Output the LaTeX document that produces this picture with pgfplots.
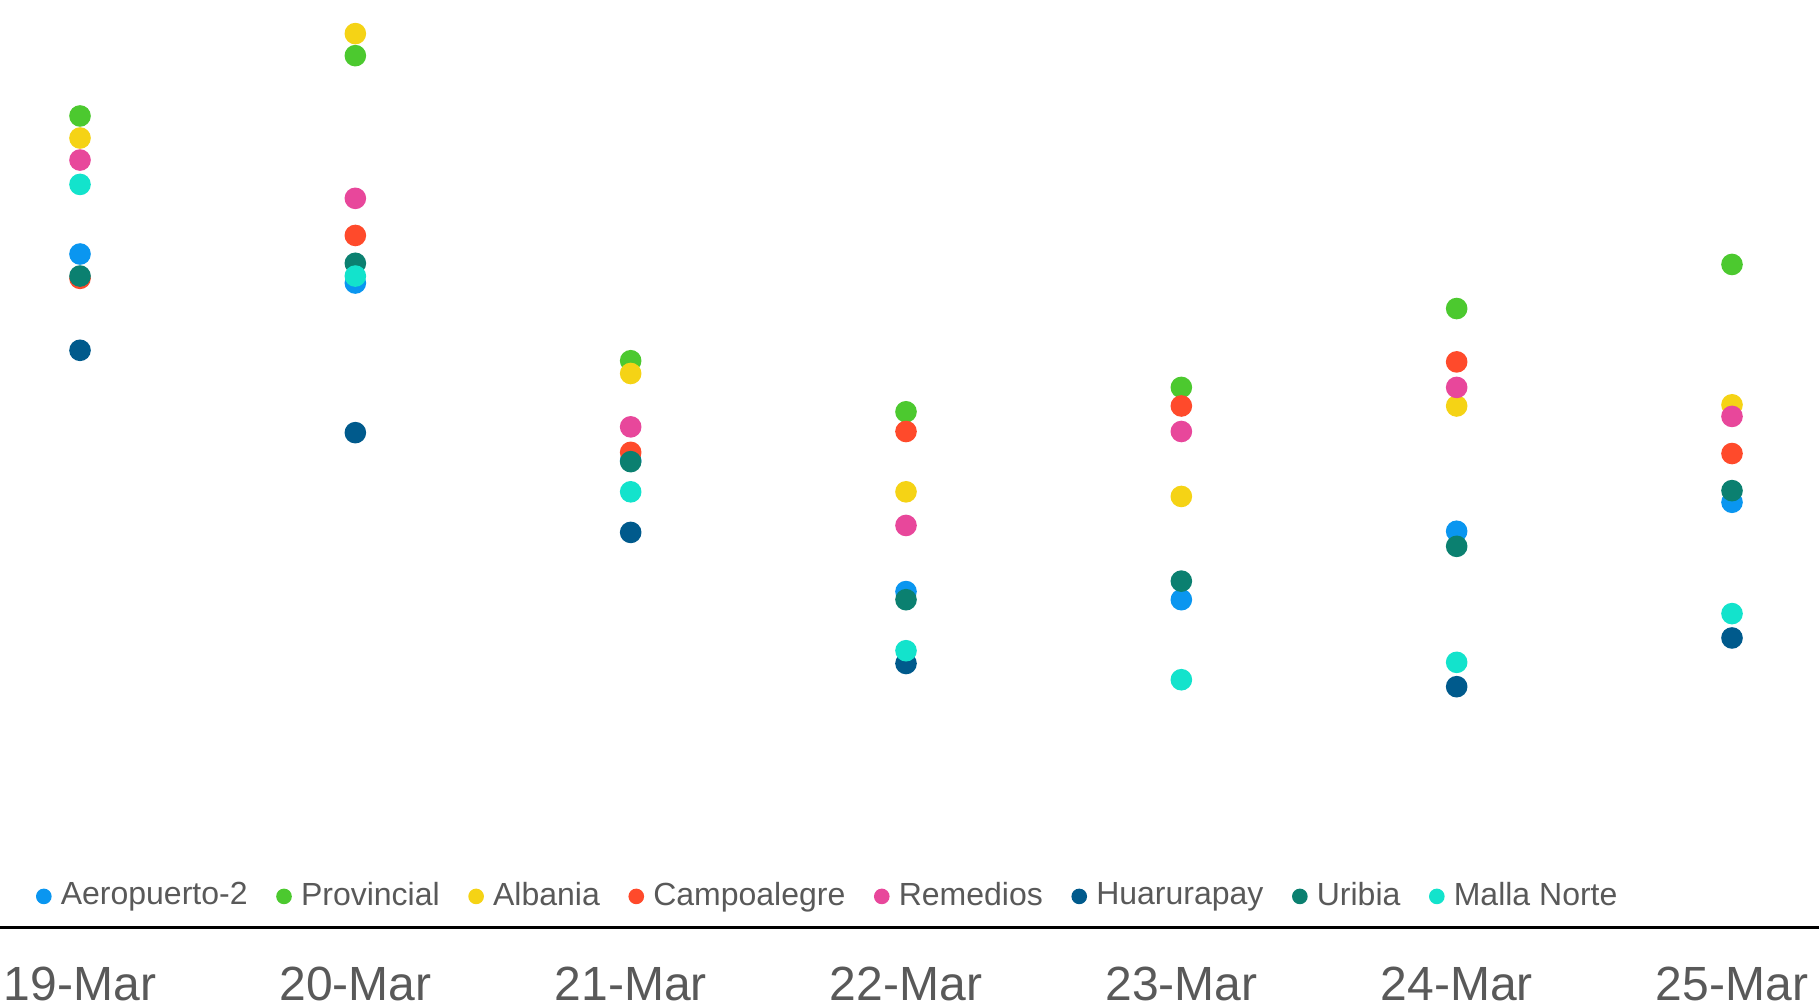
\documentclass[border=0pt]{standalone}
\usepackage{pgfplots}
\pgfplotsset{compat=1.18}
\usepackage{fontspec}
\setmainfont{Liberation Sans}

\definecolor{aero}{HTML}{0A96F0}
\definecolor{prov}{HTML}{4CC92F}
\definecolor{alba}{HTML}{F5D315}
\definecolor{camp}{HTML}{FF4A2B}
\definecolor{reme}{HTML}{E8479B}
\definecolor{huar}{HTML}{005A8C}
\definecolor{urib}{HTML}{0B8070}
\definecolor{mall}{HTML}{13E3CC}
\definecolor{txt}{HTML}{595959}

\pgfplotsset{
  dot/.style={only marks, mark=*, mark size=2.5pt, color=#1, mark options={draw=none, fill=#1}},
}

\begin{document}
\begin{tikzpicture}
\begin{axis}[
    scale only axis,
    width=454.75pt, height=232pt,
    xmin=-0.2906, xmax=6.316,
    ymin=0, ymax=80,
    clip=false,
    axis x line=bottom,
    axis y line=none,
    axis line style={-, black, line width=0.75pt},
    xtick={0,1,2,3,4,5,6},
    xticklabels={19-Mar,20-Mar,21-Mar,22-Mar,23-Mar,24-Mar,25-Mar},
    major tick length=0pt,
    xticklabel style={font=\fontsize{12}{14}\selectfont, text=txt, yshift=-6.2pt},
    legend columns=-1,
    legend image code/.code={\draw[#1] plot coordinates {(0pt,0pt)};},
    legend image post style={mark size=1.75pt},
    legend style={
      draw=none, fill=none, inner sep=0pt,
      at={(axis description cs:0.0198,0.034)}, anchor=west,
      font=\fontsize{8}{10}\selectfont, text=txt,
      nodes={inner xsep=1.5pt},
      /tikz/every odd column/.style={column sep=1.0pt},
      /tikz/every even column/.style={column sep=5.85pt},
    },
]
% Aeropuerto-2
\addplot[dot=aero] coordinates {(0,58.1) (1,55.6) (2,40.3) (3,29.0) (4,28.3) (5,34.2) (6,36.7)};
% Provincial
\addplot[dot=prov] coordinates {(0,70.0) (1,75.2) (2,48.9) (3,44.5) (4,46.6) (5,53.4) (6,57.2)};
% Albania
\addplot[dot=alba] coordinates {(0,68.1) (1,77.1) (2,47.8) (3,37.6) (4,37.2) (5,45.0) (6,45.1)};
% Campoalegre
\addplot[dot=camp] coordinates {(0,56.0) (1,59.7) (2,41.0) (3,42.8) (4,45.0) (5,48.8) (6,40.9)};
% Remedios
\addplot[dot=reme] coordinates {(0,66.2) (1,62.9) (2,43.2) (3,34.7) (4,42.8) (5,46.6) (6,44.1)};
% Huarurapay (no value on 23-Mar)
\addplot[dot=huar] coordinates {(0,49.8) (1,42.7) (2,34.1) (3,22.8) (5,20.8) (6,25.0)};
% Uribia
\addplot[dot=urib] coordinates {(0,56.2) (1,57.3) (2,40.2) (3,28.3) (4,29.9) (5,32.9) (6,37.7)};
% Malla Norte
\addplot[dot=mall] coordinates {(0,64.1) (1,56.2) (2,37.6) (3,23.9) (4,21.4) (5,22.9) (6,27.1)};
\legend{Aeropuerto-2,Provincial,Albania,Campoalegre,Remedios,Huarurapay,Uribia,Malla Norte}
\coordinate (bl) at (rel axis cs:0,0);
\coordinate (tr) at (rel axis cs:1,1);
\end{axis}
\pgfresetboundingbox
\path ([yshift=-20pt]bl) rectangle (tr);
\end{tikzpicture}
\end{document}
